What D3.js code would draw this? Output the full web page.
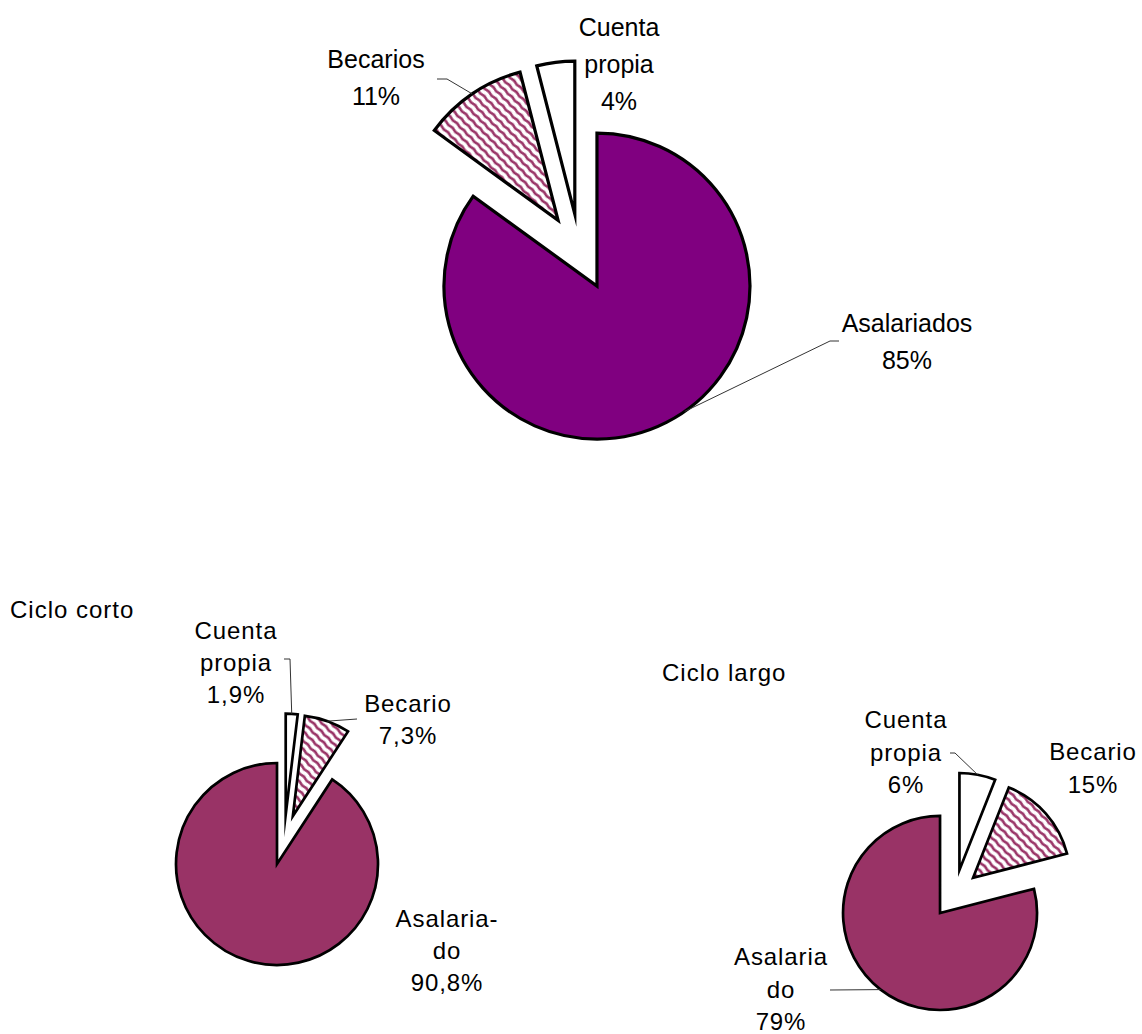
<!DOCTYPE html>
<html>
<head>
<meta charset="utf-8">
<script src="https://cdn.jsdelivr.net/npm/d3@7"></script>
<style>
	body { margin: 0; background: #fff; }
	svg text { font-family: "Liberation Sans", Arial, sans-serif; fill: #000; }
	.leader { fill: none; stroke: #333; stroke-width: 1; }
</style>
</head>
<body>
<script>
/* Data */

var topCategories   = ["Asalariados", "Becarios", "Cuenta propia"],
	topValues       = [85, 11, 4],
	topLabelLines   = [["Asalariados"], ["Becarios"], ["Cuenta", "propia"]];

var cortoCategories = ["Cuenta propia", "Becario", "Asalariado"],
	cortoValues     = [1.9, 7.3, 90.8],
	cortoLabelLines = [["Cuenta", "propia"], ["Becario"], ["Asalaria-", "do"]];

var largoCategories = ["Cuenta propia", "Becario", "Asalariado"],
	largoValues     = [6, 15, 79],
	largoLabelLines = [["Cuenta", "propia"], ["Becario"], ["Asalaria", "do"]];

var titles = ["Ciclo corto", "Ciclo largo"];

/* Measures */

var W = 1142,
	H = 1034;

var HATCH_COLOR = "#993366";

/* one entry per pie : geometry + where its labels sit */
var PIES = [
	{ id: "total", categories: topCategories, values: topValues, lines: topLabelLines,
	  cx: 579.6, cy: 252, r: 153, explode: 0.25, solid: "#800080", strokeW: 3.2,
	  fontSize: 25, letterSpacing: 0, lineH: 37, decimals: 0,
	  labels: [ { x: 907, y: 332, elbow: [[839, 341], [830, 341]], anchorDeg: 145 },
				{ x: 376, y: 68,  elbow: [[437, 79], [447, 79]] },
				{ x: 619, y: 36 } ] },
	{ id: "corto", categories: cortoCategories, values: cortoValues, lines: cortoLabelLines,
	  cx: 284.2, cy: 839.8, r: 101, explode: 0.25, solid: "#993366", strokeW: 2.7,
	  fontSize: 24, letterSpacing: 0.9, lineH: 32, decimals: 1,
	  labels: [ { x: 236, y: 639, elbow: [[284, 659], [290, 659]] },
				{ x: 408, y: 712, elbow: [[357, 719]] },
				{ x: 447, y: 927 } ] },
	{ id: "largo", categories: largoCategories, values: largoValues, lines: largoLabelLines,
	  cx: 954.9, cy: 893.8, r: 97, explode: 0.25, solid: "#993366", strokeW: 2.7,
	  fontSize: 24, letterSpacing: 0.9, lineH: 32.5, decimals: 0,
	  labels: [ { x: 906, y: 728, elbow: [[950, 753], [955, 753]] },
				{ x: 1093, y: 760 },
				{ x: 781, y: 965, elbow: [[830, 990]] } ] }
];

var TITLE_POS = [ { x: 10, y: 618 }, { x: 662, y: 681 } ];

var svg = d3.select("body").append("svg")
	.attr("width", W)
	.attr("height", H);

function addDefs() {
	var defs = svg.append("defs");

	// wavy downward diagonal hatch
	var pat = defs.append("pattern")
		.attr("id", "hatch")
		.attr("patternUnits", "userSpaceOnUse")
		.attr("width", 10)
		.attr("height", 6.4)
		.attr("patternTransform", "rotate(45)");

	pat.append("rect")
		.attr("width", 10)
		.attr("height", 6.4)
		.attr("fill", "#fff");

	pat.append("path")
		.attr("d", "M-2.5,3.2 Q0,2.2 2.5,3.2 T7.5,3.2 T12.5,3.2")
		.attr("fill", "none")
		.attr("stroke", HATCH_COLOR)
		.attr("stroke-width", 2.7);
}

function sliceFill(pieDef, name) {
	if (/^Asalaria/.test(name)) return pieDef.solid;
	if (/^Becario/.test(name)) return "url(#hatch)";
	return "#fff";
}

function fmtPct(v, decimals) {
	return d3.format("." + decimals + "f")(v).replace(".", ",") + "%";
}

function drawPie(pieDef) {
	var arcs = d3.pie().sort(null).value(function(d) { return d; })(pieDef.values);
	var arc = d3.arc().innerRadius(0).outerRadius(pieDef.r);
	var e = pieDef.explode * pieDef.r;

	var g = svg.append("g")
		.attr("id", pieDef.id)
		.attr("transform", "translate(" + pieDef.cx + "," + pieDef.cy + ")");

	// every slice pushed out along its bisector
	arcs.forEach(function(a) {
		var mid = (a.startAngle + a.endAngle) / 2;
		a.dx = e * Math.sin(mid);
		a.dy = -e * Math.cos(mid);
	});

	g.selectAll("path.slice")
		.data(arcs)
		.enter().append("path")
		.attr("class", "slice")
		.attr("transform", function(a) { return "translate(" + a.dx + "," + a.dy + ")"; })
		.attr("d", arc)
		.attr("fill", function(a, i) { return sliceFill(pieDef, pieDef.categories[i]); })
		.attr("stroke", "#000")
		.attr("stroke-width", pieDef.strokeW)
		.attr("stroke-linejoin", "miter")
		.attr("stroke-miterlimit", 30);

	// leader lines
	pieDef.labels.forEach(function(lab, i) {
		if (!lab.elbow) return;
		var a = arcs[i];
		var ang = lab.anchorDeg !== undefined ? lab.anchorDeg * Math.PI / 180 : (a.startAngle + a.endAngle) / 2;
		var end = [pieDef.cx + a.dx + pieDef.r * Math.sin(ang),
				   pieDef.cy + a.dy - pieDef.r * Math.cos(ang)];
		svg.append("path")
			.attr("class", "leader")
			.attr("d", d3.line()(lab.elbow.concat([end])));
	});

	// labels
	pieDef.labels.forEach(function(lab, i) {
		var lines = pieDef.lines[i].concat([fmtPct(pieDef.values[i], pieDef.decimals)]);
		var t = svg.append("text")
			.attr("text-anchor", "middle")
			.style("font-size", pieDef.fontSize + "px")
			.style("letter-spacing", pieDef.letterSpacing + "px");
		lines.forEach(function(s, k) {
			t.append("tspan")
				.attr("x", lab.x)
				.attr("y", lab.y + k * pieDef.lineH)
				.text(s);
		});
	});
}

addDefs();
PIES.forEach(drawPie);

svg.selectAll("text.title")
	.data(titles)
	.enter().append("text")
	.attr("class", "title")
	.attr("x", function(d, i) { return TITLE_POS[i].x; })
	.attr("y", function(d, i) { return TITLE_POS[i].y; })
	.style("font-size", "24px")
	.style("letter-spacing", "1px")
	.text(String);
</script>
</body>
</html>
